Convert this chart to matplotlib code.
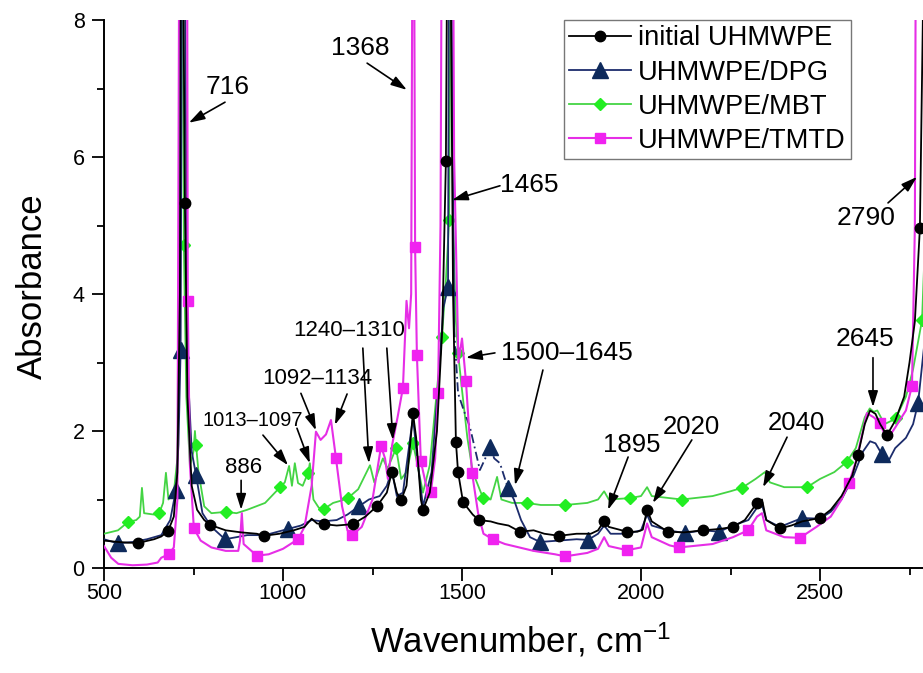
import numpy as np
import matplotlib
matplotlib.use("Agg")
import matplotlib.pyplot as plt
from matplotlib.lines import Line2D

plt.rcParams['font.family'] = ['Liberation Sans', 'DejaVu Sans']
plt.rcParams['mathtext.default'] = 'regular'

# ---------------- data ----------------
wn_initial = [500, 539, 567, 595, 640, 660, 679, 695, 705, 712, 716, 721, 726, 733, 745, 760, 780, 796,
              840, 883, 927, 947, 990, 1030, 1060, 1080, 1095, 1114, 1150, 1195, 1230, 1262, 1290, 1304,
              1318, 1330, 1345, 1363, 1372, 1385, 1391, 1410, 1430, 1445, 1455, 1462, 1468, 1475, 1483,
              1489, 1503, 1530, 1547, 1580, 1600, 1630, 1662, 1700, 1730, 1771, 1820, 1860, 1880, 1897,
              1910, 1961, 1990, 2005, 2017, 2030, 2075, 2120, 2173, 2220, 2257, 2290, 2324, 2338, 2350,
              2388, 2420, 2450, 2500, 2530, 2560, 2590, 2606, 2625, 2640, 2655, 2668, 2687, 2710, 2735,
              2750, 2765, 2779, 2790]
abs_initial = [0.40, 0.38, 0.37, 0.365, 0.42, 0.46, 0.54, 0.75, 1.4, 4.0, 12, 9, 5.33, 2.5, 1.2, 0.85, 0.70, 0.63,
               0.55, 0.52, 0.50, 0.47, 0.50, 0.55, 0.60, 0.72, 0.65, 0.64, 0.62, 0.64, 0.75, 0.90, 1.10, 1.40,
               1.10, 0.99, 1.20, 2.26, 1.90, 1.00, 0.85, 1.10, 2.00, 3.50, 5.94, 12, 9, 4.0, 1.84,
               1.40, 0.96, 0.78, 0.70, 0.68, 0.65, 0.62, 0.53, 0.55, 0.50, 0.47, 0.50, 0.50, 0.55, 0.69,
               0.60, 0.53, 0.53, 0.56, 0.85, 0.68, 0.53, 0.52, 0.55, 0.57, 0.60, 0.70, 0.95, 1.00, 0.70,
               0.58, 0.62, 0.68, 0.73, 0.85, 1.05, 1.35, 1.65, 2.10, 2.30, 2.25, 2.10, 1.94, 2.15, 2.50,
               3.00, 3.60, 4.96, 9.0]
mk_initial = [595, 679, 726, 796, 947, 1114, 1195, 1262, 1304, 1330, 1363, 1391, 1455, 1483, 1489, 1503,
              1547, 1662, 1771, 1897, 1961, 2017, 2075, 2173, 2257, 2324, 2388, 2500, 2606, 2687, 2779]

wn_dpg = [500, 539, 580, 620, 660, 685, 701, 708, 714, 720, 727, 733, 745, 757, 775, 800, 838, 870, 900,
          950, 1014, 1050, 1080, 1110, 1150, 1180, 1212, 1240, 1270, 1290, 1304, 1318, 1335, 1363, 1375,
          1391, 1415, 1435, 1448, 1461, 1464, 1470, 1478, 1489, 1505, 1522, 1550, 1565, 1578, 1590, 1606,
          1628, 1645, 1665, 1690, 1718, 1770, 1820, 1852, 1880, 1897, 1915, 1960, 2000, 2017, 2030, 2075,
          2123, 2173, 2218, 2257, 2300, 2324, 2338, 2350, 2388, 2450, 2500, 2530, 2560, 2590, 2620, 2640,
          2655, 2673, 2690, 2710, 2740, 2760, 2774, 2790]
abs_dpg = [0.42, 0.36, 0.38, 0.42, 0.48, 0.70, 1.14, 1.80, 3.18, 12, 8, 3.0, 1.7, 1.36, 0.80, 0.60, 0.42, 0.45, 0.48,
           0.48, 0.57, 0.62, 0.70, 0.68, 0.70, 0.78, 0.90, 1.00, 1.05, 1.20, 1.42, 1.05, 1.10, 2.20, 1.60,
           0.90, 1.40, 2.80, 3.80, 4.10, 10, 9, 3.5, 2.55, 2.30, 2.06, 1.43, 1.60, 1.77, 1.60, 1.53,
           1.17, 1.00, 0.70, 0.45, 0.38, 0.40, 0.42, 0.41, 0.50, 0.62, 0.50, 0.50, 0.55, 0.78, 0.62, 0.55,
           0.51, 0.55, 0.53, 0.62, 0.70, 0.88, 0.92, 0.70, 0.60, 0.73, 0.72, 0.82, 1.00, 1.30, 1.70, 1.85,
           1.82, 1.66, 1.55, 1.75, 1.90, 2.10, 2.41, 3.20]
mk_dpg = [539, 701, 714, 757, 838, 1014, 1212, 1461, 1578, 1628, 1718, 1852, 2123, 2218, 2450, 2673, 2774]
dashed_dpg = (1478, 1628)   # stretch of the DPG trace drawn dashed

wn_mbt = [500, 539, 567, 590, 600, 606, 612, 640, 654, 665, 673, 680, 695, 705, 712, 718, 723, 730, 740,
          750, 754, 757, 764, 780, 800, 841, 870, 900, 950, 992, 1005, 1017, 1025, 1033, 1042, 1055, 1070,
          1075, 1085, 1100, 1114, 1140, 1160, 1181, 1210, 1243, 1255, 1279, 1292, 1316, 1330, 1345, 1363,
          1372, 1391, 1410, 1430, 1444, 1455, 1464, 1469, 1475, 1483, 1489, 1500, 1515, 1530, 1559, 1580,
          1598, 1610, 1640, 1681, 1720, 1788, 1850, 1880, 1897, 1910, 1969, 2000, 2017, 2030, 2114, 2200,
          2250, 2282, 2320, 2346, 2360, 2400, 2464, 2500, 2540, 2575, 2600, 2625, 2639, 2650, 2660, 2680,
          2700, 2712, 2740, 2760, 2785, 2795]
abs_mbt = [0.50, 0.55, 0.67, 0.70, 0.75, 1.17, 0.80, 0.78, 0.80, 0.95, 1.39, 1.00, 1.10, 1.60, 4.0, 12, 4.72, 2.5, 1.5,
           1.7, 2.0, 1.80, 1.4, 0.90, 0.80, 0.82, 0.80, 0.85, 0.95, 1.18, 1.25, 1.49, 1.20, 1.53, 1.24, 1.20, 1.39,
           1.53, 1.00, 0.88, 0.86, 0.95, 0.98, 1.02, 1.15, 1.50, 1.25, 1.60, 1.45, 1.75, 1.30, 1.40, 1.82,
           1.60, 1.10, 1.50, 2.60, 3.37, 4.20, 5.08, 10, 5.0, 3.6, 3.14, 2.6, 1.9, 1.4, 1.02, 1.00,
           1.33, 1.00, 0.95, 0.95, 0.92, 0.92, 0.95, 1.00, 1.12, 1.00, 1.02, 1.05, 1.18, 1.05, 1.00, 1.05,
           1.12, 1.17, 1.30, 1.40, 1.25, 1.18, 1.18, 1.30, 1.40, 1.55, 1.75, 2.20, 2.33, 2.28, 2.30, 2.10,
           2.15, 2.19, 2.50, 2.90, 3.62, 5.0]
mk_mbt = [567, 654, 723, 757, 841, 992, 1070, 1114, 1181, 1316, 1363, 1444, 1464, 1489, 1559, 1681, 1788,
          1969, 2114, 2282, 2464, 2575, 2712, 2785]

wn_tmtd = [500, 520, 540, 580, 620, 650, 660, 681, 695, 705, 710, 714, 718, 722, 726, 731, 734, 740, 751, 770,
           800, 840, 875, 880, 885, 890, 927, 960, 1000, 1042, 1060, 1080, 1092, 1105, 1120, 1134, 1148,
           1165, 1180, 1193, 1220, 1250, 1274, 1285, 1293, 1305, 1320, 1335, 1345, 1352, 1358, 1364, 1369,
           1374, 1385, 1400, 1413, 1425, 1433, 1440, 1446, 1452, 1458, 1465, 1472, 1478, 1490, 1500, 1511,
           1520, 1528, 1545, 1560, 1586, 1620, 1700, 1760, 1788, 1850, 1880, 1897, 1910, 1961, 2000, 2017,
           2030, 2080, 2106, 2200, 2257, 2299, 2324, 2338, 2350, 2400, 2444, 2490, 2530, 2560, 2581, 2600,
           2620, 2631, 2650, 2667, 2687, 2710, 2740, 2757, 2765, 2770, 2790]
abs_tmtd = [0.32, 0.15, 0.06, 0.04, 0.05, 0.08, 0.15, 0.20, 0.30, 1.0, 9, 13, 9, 13, 9, 13, 3.90, 1.5, 0.58, 0.40,
            0.30, 0.25, 0.25, 0.40, 0.80, 0.35, 0.18, 0.20, 0.28, 0.42, 0.60, 1.20, 1.99, 1.87, 1.95, 2.16, 1.60,
            0.90, 0.55, 0.48, 0.60, 1.00, 1.78, 1.60, 1.30, 1.80, 2.20, 2.63, 3.90, 3.50, 4.00, 13, 4.68,
            3.11, 1.56, 1.20, 1.11, 1.60, 2.55, 5.0, 13, 9, 13, 10, 13, 6.0, 3.0, 3.35, 2.73,
            2.00, 1.39, 0.80, 0.50, 0.42, 0.35, 0.25, 0.20, 0.17, 0.22, 0.28, 0.45, 0.32, 0.26, 0.30, 0.65,
            0.45, 0.33, 0.30, 0.35, 0.45, 0.55, 0.75, 0.80, 0.55, 0.45, 0.44, 0.60, 0.75, 1.00, 1.24, 1.55,
            2.00, 2.26, 2.20, 2.12, 1.87, 2.05, 2.30, 2.66, 5.0, 13, 13]
mk_tmtd = [681, 734, 751, 927, 1042, 1148, 1193, 1274, 1335, 1369, 1374, 1385, 1413, 1433, 1511, 1528,
           1586, 1788, 1961, 2106, 2299, 2444, 2581, 2667, 2757]

series_names = ["initial UHMWPE", "UHMWPE/DPG", "UHMWPE/MBT", "UHMWPE/TMTD"]

x_ticks = [500, 1000, 1500, 2000, 2500]
y_ticks = [0, 2, 4, 6, 8]

annotations = [
    ("716", (846, 7.02), 19, [((838, 6.80), (737, 6.50))]),
    ("1368", (1215, 7.59), 19, [((1235, 7.37), (1346, 6.98))]),
    ("1465", (1687, 5.59), 19, [((1606, 5.58), (1472, 5.37))]),
    ("1500\u20131645", (1793, 3.14), 19, [((1592, 3.14), (1511, 3.07)), ((1726, 2.89), (1648, 1.21))]),
    ("1240\u20131310", (1184, 3.47), 16, [((1223, 3.21), (1240, 1.53)), ((1290, 3.21), (1307, 1.87))]),
    ("1092\u20131134", (1095, 2.76), 16, [((1050, 2.55), (1092, 2.01)), ((1179, 2.54), (1145, 2.09))]),
    ("1013\u20131097", (916, 2.16), 14.5, [((944, 1.94), (1014, 1.50)), ((1039, 2.04), (1075, 1.53))]),
    ("886", (891, 1.46), 16, [((883, 1.28), (883, 0.85))]),
    ("1895", (1975, 1.80), 18.5, [((1964, 1.62), (1908, 0.85))]),
    ("2020", (2142, 2.06), 18.5, [((2142, 1.87), (2033, 0.95))]),
    ("2040", (2435, 2.12), 18.5, [((2408, 1.91), (2341, 1.18))]),
    ("2645", (2625, 3.34), 19, [((2648, 3.07), (2648, 2.35))]),
    ("2790", (2628, 5.11), 19, [((2690, 5.33), (2771, 5.71))]),
]

# ---------------- figure ----------------
W, H = 923, 673
fig = plt.figure(figsize=(W / 100, H / 100), dpi=100)
ax_left, ax_bottom_px, ax_top_px = 104, 568, 20
px_per_unit = 179 / 500.0
xmax = 3000
ax_w = (xmax - 500) * px_per_unit
ax = fig.add_axes([ax_left / W, (H - ax_bottom_px) / H, ax_w / W, (ax_bottom_px - ax_top_px) / H])

styles = [
    dict(color="black", marker="o", ms=7.5, mfc="black", mec="black", lw=1.3, zorder=6),
    dict(color="#1c2c6c", marker="^", ms=11, mfc="#0e2a5c", mec="#0e2a5c", lw=1.3, zorder=4),
    dict(color="#44d444", marker="D", ms=6.5, mfc="#22ee22", mec="#22ee22", lw=1.3, zorder=3),
    dict(color="#e62ee6", marker="s", ms=7, mfc="#f022f0", mec="#f022f0", lw=1.5, zorder=5),
]
data = [(wn_initial, abs_initial, mk_initial), (wn_dpg, abs_dpg, mk_dpg),
        (wn_mbt, abs_mbt, mk_mbt), (wn_tmtd, abs_tmtd, mk_tmtd)]

for k, ((xs, ys, mk), name, st) in enumerate(zip(data, series_names, styles)):
    xs = np.asarray(xs, float)
    ys = np.asarray(ys, float)
    idx = list(np.nonzero(np.isin(xs, mk))[0])
    if k == 1:
        inside = (xs > dashed_dpg[0]) & (xs < dashed_dpg[1])
        seg = (xs >= dashed_dpg[0]) & (xs <= dashed_dpg[1])
        ax.plot(xs[seg], ys[seg], color=st["color"], lw=st["lw"], ls=(0, (5, 2, 1, 2)),
                zorder=st["zorder"])
        ax.plot(xs, np.where(inside, np.nan, ys), color=st["color"], lw=st["lw"], zorder=st["zorder"])
        ax.plot(xs, ys, ls="none", marker=st["marker"], ms=st["ms"], mfc=st["mfc"], mec=st["mec"],
                markevery=idx, zorder=st["zorder"])
    else:
        ax.plot(xs, ys, markevery=idx, **st)

ax.set_xlim(500, xmax)
ax.set_ylim(0, 8)
ax.set_xticks(x_ticks)
ax.set_xticks(np.arange(750, xmax, 500), minor=True)
ax.set_yticks(y_ticks)
ax.set_yticks([1, 3, 5, 7], minor=True)
for s in ["top", "right"]:
    ax.spines[s].set_visible(False)
for s in ["left", "bottom"]:
    ax.spines[s].set_linewidth(1.4)
ax.tick_params(which="major", direction="out", length=9, width=1.3, pad=5)
ax.tick_params(which="minor", direction="out", length=5, width=1.3)
ax.tick_params(axis="x", which="major", pad=1.5)
for lab in ax.get_xticklabels():
    lab.set_fontfamily(['Liberation Sans Narrow', 'Liberation Sans'])
    lab.set_fontsize(15.5)
for lab in ax.get_yticklabels():
    lab.set_fontsize(15.5)

ax.set_ylabel("Absorbance", fontsize=25)
ax.yaxis.set_label_coords((49 - ax_left) / ax_w, (568 - 286) / 548)
ax.set_xlabel("Wavenumber, cm$^{-1}$", fontsize=25)
ax.xaxis.set_label_coords((521 - ax_left) / ax_w, (568 - 621) / 548)

for text, (tx, ty), fs, arrows in annotations:
    ax.text(tx, ty, text, fontsize=fs, ha="center", va="center", zorder=10)
    for (x0, y0), (x1, y1) in arrows:
        ax.annotate("", xy=(x1, y1), xytext=(x0, y0), zorder=10,
                    arrowprops=dict(arrowstyle="-|>,head_length=0.8,head_width=0.25",
                                    color="black", lw=1.2, shrinkA=0, shrinkB=0,
                                    mutation_scale=12))

handles = [Line2D([], [], color=st["color"], lw=st["lw"], marker=st["marker"], ms=st["ms"],
                  mfc=st["mfc"], mec=st["mec"]) for st in styles]
leg = ax.legend(handles, series_names, loc="upper left", bbox_to_anchor=(564 / W, 1 - 20 / H),
                bbox_transform=fig.transFigure,
                fontsize=19.6, frameon=True, fancybox=False, borderpad=0.2, labelspacing=0.3,
                handlelength=2.25, handletextpad=0.25, borderaxespad=0)
leg.get_frame().set_edgecolor("#555555")
leg.get_frame().set_linewidth(1.0)
leg.set_zorder(20)

fig.savefig("out.png", dpi=100)
